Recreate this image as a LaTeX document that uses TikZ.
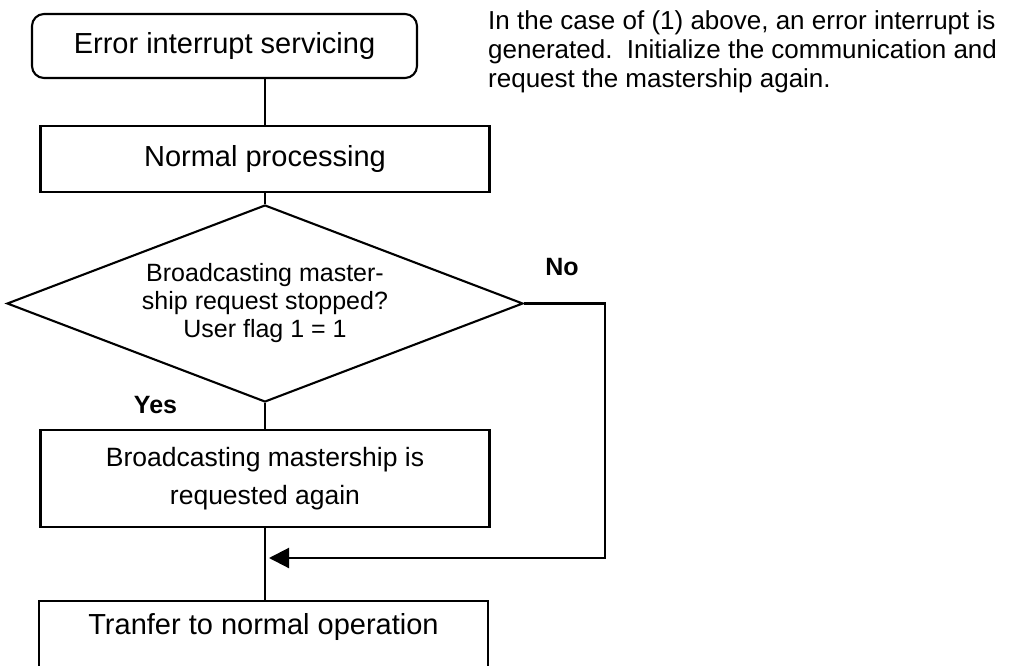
\documentclass[tikz,border=0pt]{standalone}
\usepackage{fontspec}
\setmainfont{Liberation Sans}
\usetikzlibrary{shapes.geometric,arrows.meta}
\definecolor{flowline}{HTML}{000000}
\tikzset{
  box/.style={draw=flowline, line width=2.1pt, minimum width=449pt, minimum height=66pt,
              inner sep=0pt, font=\fontsize{29pt}{34pt}\selectfont},
  startbox/.style={box, rounded corners=12pt, minimum width=385pt, minimum height=64pt},
  twolinebox/.style={box, minimum height=97pt, align=center, font=\fontsize{26.5pt}{38pt}\selectfont},
  openbox/.style={box, anchor=north, text height=21pt, text depth=60pt, inner ysep=12pt},
  decision/.style={diamond, aspect=2.62, draw=flowline, line width=2.1pt, minimum width=516pt, minimum height=197pt,
                   inner sep=0pt, align=center, font=\fontsize{25pt}{28pt}\selectfont},
  answer/.style={inner sep=0pt, font=\fontsize{25pt}{30pt}\selectfont\bfseries},
  notetext/.style={anchor=north west, inner sep=0pt, align=left, font=\fontsize{26pt}{29pt}\selectfont},
  flow/.style={draw=flowline, line width=2.1pt},
  flowarrow/.style={flow, -{Triangle[length=20pt,width=20pt]}},
}
\begin{document}
\begin{tikzpicture}[x=1pt, y=-1pt]
  \clip (0,0) rectangle (1014,666);
  \node[startbox] (start) at (224.5,46) {Error interrupt servicing};
  \node[box] (norm) at (265,159) {Normal processing};
  \node[decision] (dec) at (265,303.5) {Broadcasting master-\\ship request stopped?\\User flag 1 = 1};
  \node[twolinebox] (again) at (265,478.5) {Broadcasting mastership is\\requested again};
  \node[openbox] (tranf) at (263.5,600) {Tranfer to normal operation};
  \node[notetext] (note) at (488,10) {In the case of (1) above, an error interrupt is\\generated.\ \ Initialize the communication and\\request the mastership again.};
  \node[answer] (no) at (562,267) {No};
  \node[answer] (yes) at (155.5,405) {Yes};
  \coordinate (turn) at (605,558);
  \coordinate (merge) at (269,558);
  \draw[flow] (start.south -| norm.north) -- (norm.north);
  \draw[flow] (norm.south) -- (dec.north);
  \draw[flow] (dec.south) -- (again.north);
  \draw[flow] (again.south) -- (again.south |- tranf.north);
  \draw[flowarrow] (dec.east) -| (turn) -- (merge);
\end{tikzpicture}
\end{document}
